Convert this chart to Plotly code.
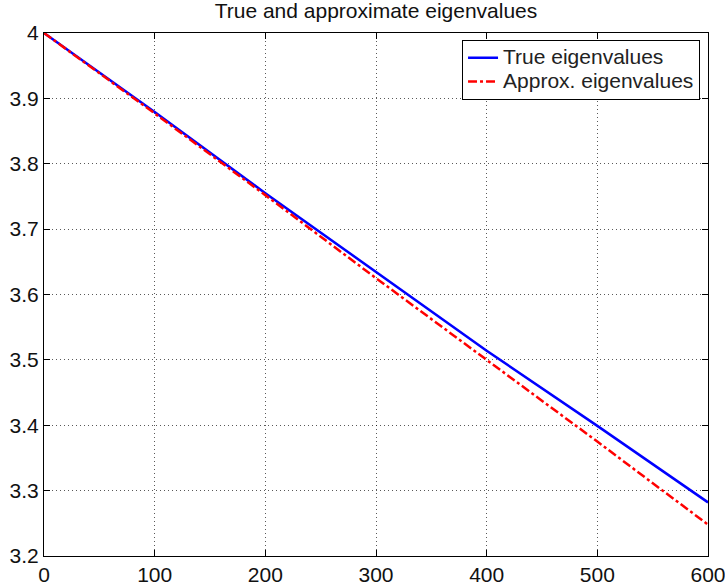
import plotly.graph_objects as go

x_vals = [0, 100, 200, 300, 400, 500, 600]
true_eig = [4.000, 3.879, 3.755, 3.634, 3.514, 3.399, 3.282]
approx_eig = [4.000, 3.877, 3.752, 3.625, 3.500, 3.375, 3.248]
series_names = ["True eigenvalues", "Approx. eigenvalues"]
x_ticks = [0, 100, 200, 300, 400, 500, 600]
y_ticks = [3.2, 3.3, 3.4, 3.5, 3.6, 3.7, 3.8, 3.9, 4.0]
y_tick_text = ["3.2", "3.3", "3.4", "3.5", "3.6", "3.7", "3.8", "3.9", "4"]


def big(label):
    return f"<span style='font-size:21px'>{label}</span>"


fig = go.Figure()
fig.add_trace(go.Scatter(x=x_vals, y=true_eig, mode="lines", name=big(series_names[0]),
                         line=dict(color="#0000ff", width=2.5)))
fig.add_trace(go.Scatter(x=x_vals, y=approx_eig, mode="lines", name=big(series_names[1]),
                         line=dict(color="#ff0000", width=2.5, dash="dashdot")))

axis_common = dict(showline=True, linecolor="black", linewidth=1, mirror="ticks",
                   ticks="inside", ticklen=6, tickcolor="black", automargin=False,
                   ticklabeloverflow="allow",
                   showgrid=True, gridcolor="rgba(0,0,0,0.65)", griddash="1px,3px", gridwidth=1,
                   zeroline=False, tickfont=dict(size=21, color="#111"))

fig.update_xaxes(range=[0, 600], tickvals=x_ticks, **axis_common)
fig.update_yaxes(range=[3.2, 4.0], tickvals=y_ticks, ticktext=y_tick_text, **axis_common)

fig.update_layout(
    width=725, height=588,
    margin=dict(l=44, r=17, t=33, b=32, autoexpand=False),
    paper_bgcolor="white", plot_bgcolor="white",
    font=dict(family="Liberation Sans, Arial, sans-serif", color="black"),
    title=dict(text="True and approximate eigenvalues", x=0.5, xref="paper", xanchor="center",
               y=0.995, yanchor="top", font=dict(size=21, color="#111"), automargin=False),
    legend=dict(x=0.988, xanchor="right", y=0.987, yanchor="top",
                bordercolor="black", borderwidth=1, bgcolor="white",
                font=dict(size=16, color="#222"), tracegroupgap=0),
    showlegend=True,
)

fig.write_html("out.html", config={"displayModeBar": False},
               post_script="document.body.style.margin='0';document.body.style.overflow='hidden';")
